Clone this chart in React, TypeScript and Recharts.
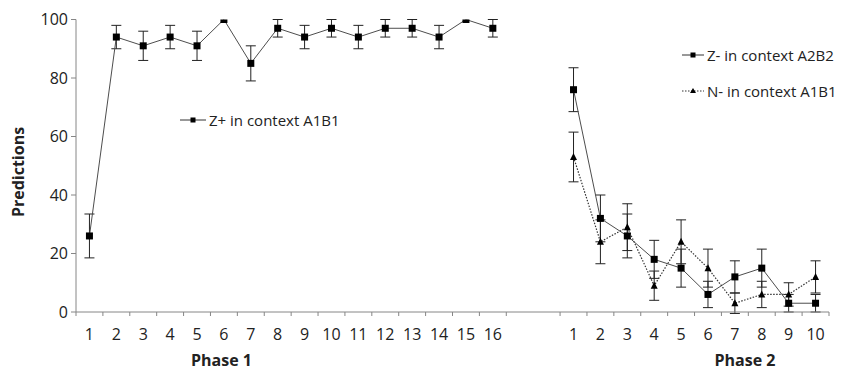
import {
  LineChart,
  Line,
  XAxis,
  YAxis,
  ErrorBar,
  Legend,
} from "recharts";

// phase 1: Z+ in context A1B1
const phase1Trials = ["1", "2", "3", "4", "5", "6", "7", "8", "9", "10", "11", "12", "13", "14", "15", "16"];
const zPlus = [26, 94, 91, 94, 91, 100, 85, 97, 94, 97, 94, 97, 97, 94, 100, 97];
const zPlusErr = [7.5, 4, 5, 4, 5, 0, 6, 3, 4, 3, 4, 3, 3, 4, 0, 3];

// phase 2: Z- in context A2B2, N- in context A1B1
const phase2Trials = ["1", "2", "3", "4", "5", "6", "7", "8", "9", "10"];
const zMinus = [76, 32, 26, 18, 15, 6, 12, 15, 3, 3];
const zMinusErr = [7.5, 8, 7.5, 6.5, 6.5, 4.5, 5.5, 6.5, 3, 3];
const nMinus = [53, 24, 29, 9, 24, 15, 3, 6, 6, 12];
const nMinusErr = [8.5, 7.5, 8, 5, 7.5, 6.5, 3.5, 4.5, 4, 5.5];

const yTicks = [0, 20, 40, 60, 80, 100];

const GAP = 2; // empty slots between the two phases
const W = 844;
const H = 370;
const X_AXIS_H = 58;
const AXIS_Y = H - X_AXIS_H;
const FONT = "'Open Sans', sans-serif";
const TEXT = "#222";
const AXIS = "#868686";

const phase2Start = phase1Trials.length + GAP;
const slots = phase2Start + phase2Trials.length;

const rows = [
  ...phase1Trials.map((label, i) => ({
    pos: i + 0.5,
    label,
    zPlus: zPlus[i],
    zPlusErr: zPlusErr[i],
  })),
  ...phase2Trials.map((label, i) => ({
    pos: phase2Start + i + 0.5,
    label,
    zMinus: zMinus[i],
    zMinusErr: zMinusErr[i],
    nMinus: nMinus[i],
    nMinusErr: nMinusErr[i],
  })),
];

// tick marks at slot borders, labels at slot centres
const borderTicks = [
  ...Array.from({ length: phase1Trials.length + 1 }, (_, i) => i),
  ...Array.from({ length: phase2Trials.length + 1 }, (_, i) => phase2Start + i),
];
const xTicks = [...borderTicks, ...rows.map((r) => r.pos)].sort((a, b) => a - b);
const labelAt = new Map(rows.map((r) => [r.pos, r.label]));

const XTick = (props: any) => {
  const { x, y, payload } = props;
  const v = payload.value;
  if (Number.isInteger(v)) {
    return <line x1={x} x2={x} y1={AXIS_Y} y2={AXIS_Y + 4} stroke={AXIS} />;
  }
  return (
    <text x={x} y={y} dy="0.71em" textAnchor="middle" fill={TEXT} fontSize={16} fontFamily={FONT}>
      {labelAt.get(v)}
    </text>
  );
};

const SquareDot = (props: any) => {
  const { cx, cy, value } = props;
  if (cx == null || cy == null || value == null) return <g />;
  return <rect x={cx - 3.5} y={cy - 3.5} width={7} height={7} fill="#000" />;
};

const TriangleDot = (props: any) => {
  const { cx, cy, value } = props;
  if (cx == null || cy == null || value == null) return <g />;
  return <polygon points={`${cx},${cy - 4} ${cx - 3.5},${cy + 3} ${cx + 3.5},${cy + 3}`} fill="#000" />;
};

const legendPos: Record<string, { x: number; y: number; w: number }> = {
  zPlus: { x: 180, y: 120, w: 26 },
  zMinus: { x: 682, y: 55, w: 22 },
  nMinus: { x: 682, y: 91, w: 22 },
};

const renderLegend = (props: any) => {
  const items = props.payload || [];
  return (
    <div>
      {items.map((item: any) => {
        const p = legendPos[item.dataKey];
        if (!p) return null;
        const dotted = item.dataKey === "nMinus";
        const mid = p.w / 2;
        return (
          <div
            key={item.dataKey}
            style={{
              position: "absolute",
              left: p.x,
              top: p.y - 11,
              height: 22,
              lineHeight: "22px",
              whiteSpace: "nowrap",
              display: "flex",
              alignItems: "center",
              fontFamily: FONT,
              fontSize: 15,
              color: TEXT,
            }}
          >
            <svg width={p.w} height={10} style={{ marginRight: 3 }}>
              <line x1={0} x2={p.w} y1={5} y2={5} stroke="#333" strokeWidth={1} strokeDasharray={dotted ? "1.5 1.5" : undefined} />
              {dotted ? (
                <polygon points={`${mid},2 ${mid - 3},7 ${mid + 3},7`} fill="#000" />
              ) : (
                <rect x={mid - 2.5} y={2.5} width={5} height={5} fill="#000" />
              )}
            </svg>
            {item.value}
          </div>
        );
      })}
    </div>
  );
};

export default function App() {
  return (
    <div style={{ position: "absolute", left: 0, top: 0, width: W, height: H, background: "#fff" }}>
      <LineChart width={W} height={H} data={rows} margin={{ top: 19.5, right: 15, left: 0, bottom: 0 }}>
        <XAxis
          dataKey="pos"
          type="number"
          domain={[0, slots]}
          allowDataOverflow
          ticks={xTicks}
          interval={0}
          tick={<XTick />}
          tickLine={false}
          tickSize={4}
          tickMargin={13}
          height={X_AXIS_H}
          stroke={AXIS}
        />
        <YAxis
          type="number"
          domain={[0, 100]}
          allowDataOverflow
          ticks={yTicks}
          width={76}
          tickSize={5}
          tickMargin={3}
          stroke={AXIS}
          tick={{ fill: TEXT, fontSize: 16, fontFamily: FONT }}
        />
        <Legend
          content={renderLegend}
          layout="horizontal"
          verticalAlign="middle"
          align="center"
          wrapperStyle={{ left: 0, top: 0, width: 0, height: 0, overflow: "visible" }}
        />
        <Line
          dataKey="zPlus"
          name="Z+ in context A1B1"
          stroke="#4d4d4d"
          strokeWidth={1}
          dot={<SquareDot />}
          activeDot={false}
          isAnimationActive={false}
        >
          <ErrorBar dataKey="zPlusErr" width={5} stroke="#222" strokeWidth={1} direction="y" />
        </Line>
        <Line
          dataKey="zMinus"
          name="Z- in context A2B2"
          stroke="#4d4d4d"
          strokeWidth={1}
          dot={<SquareDot />}
          activeDot={false}
          isAnimationActive={false}
        >
          <ErrorBar dataKey="zMinusErr" width={5} stroke="#222" strokeWidth={1} direction="y" />
        </Line>
        <Line
          dataKey="nMinus"
          name="N- in context A1B1"
          stroke="#333"
          strokeWidth={1.2}
          strokeDasharray="1.5 1.5"
          dot={<TriangleDot />}
          activeDot={false}
          isAnimationActive={false}
        >
          <ErrorBar dataKey="nMinusErr" width={5} stroke="#222" strokeWidth={1} direction="y" />
        </Line>
      </LineChart>
      <svg width={W} height={H} style={{ position: "absolute", left: 0, top: 0, pointerEvents: "none" }}>
        <text
          x={24}
          y={172}
          transform="rotate(-90 24 172)"
          textAnchor="middle"
          fontFamily={FONT}
          fontSize={16}
          fontWeight="bold"
          fill={TEXT}
        >
          Predictions
        </text>
        <text x={221.5} y={366} textAnchor="middle" fontFamily={FONT} fontSize={16} fontWeight="bold" fill={TEXT}>
          Phase 1
        </text>
        <text x={745} y={366} textAnchor="middle" fontFamily={FONT} fontSize={16} fontWeight="bold" fill={TEXT}>
          Phase 2
        </text>
      </svg>
    </div>
  );
}
